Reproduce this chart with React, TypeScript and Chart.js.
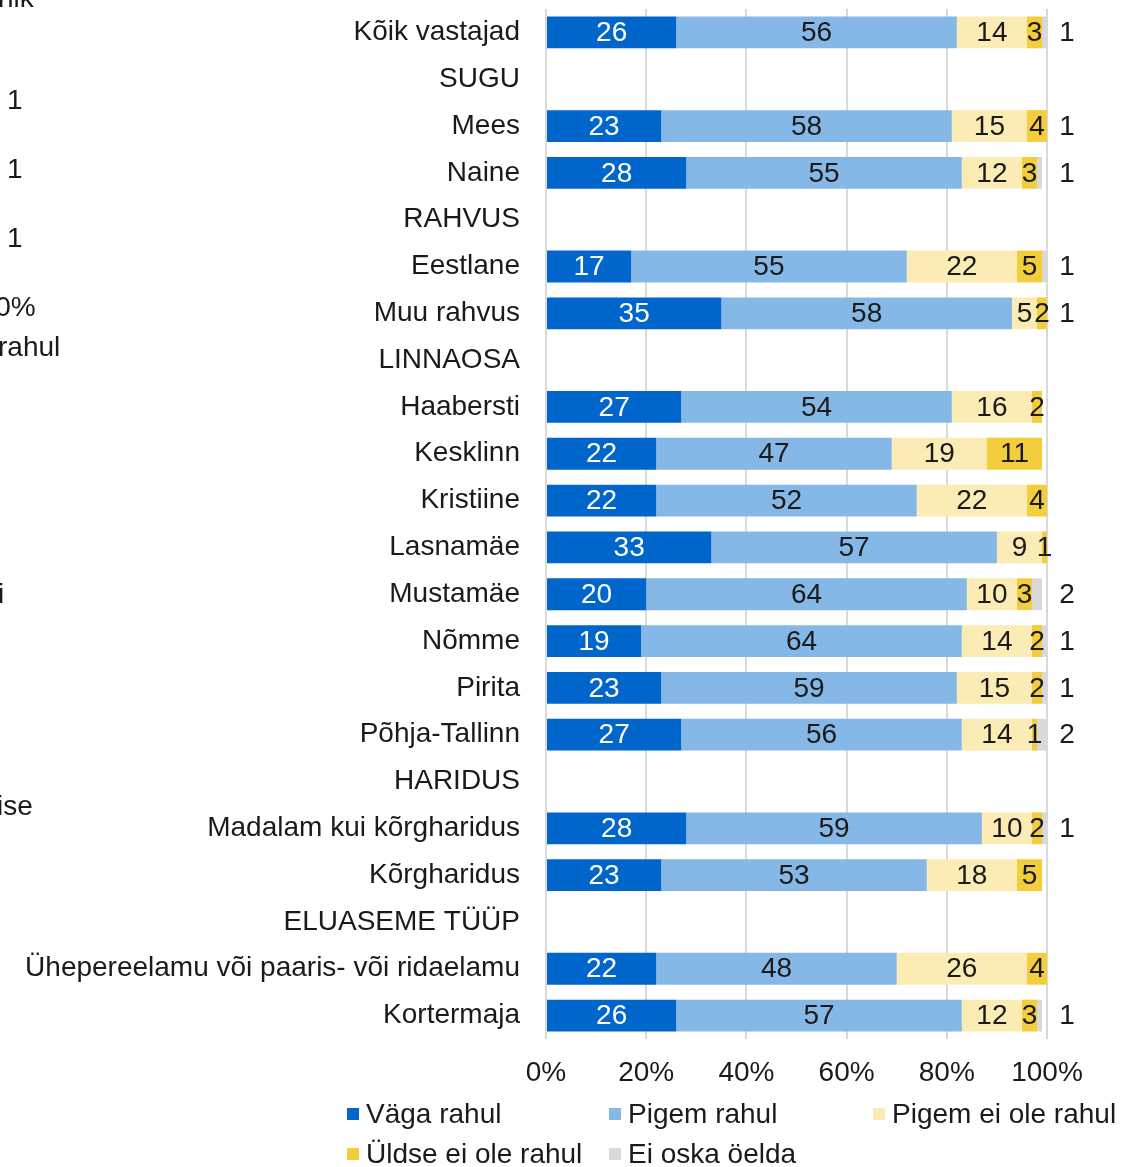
import React, { useEffect, useRef } from "react";
import { Chart, registerables } from "chart.js";

Chart.register(...registerables);

const categories = [
  "Kõik vastajad",
  "SUGU",
  "Mees",
  "Naine",
  "RAHVUS",
  "Eestlane",
  "Muu rahvus",
  "LINNAOSA",
  "Haabersti",
  "Kesklinn",
  "Kristiine",
  "Lasnamäe",
  "Mustamäe",
  "Nõmme",
  "Pirita",
  "Põhja-Tallinn",
  "HARIDUS",
  "Madalam kui kõrgharidus",
  "Kõrgharidus",
  "ELUASEME TÜÜP",
  "Ühepereelamu või paaris- või ridaelamu",
  "Kortermaja",
];

const seriesNames = [
  "Väga rahul",
  "Pigem rahul",
  "Pigem ei ole rahul",
  "Üldse ei ole rahul",
  "Ei oska öelda",
];

const vagaRahul = [26, null, 23, 28, null, 17, 35, null, 27, 22, 22, 33, 20, 19, 23, 27, null, 28, 23, null, 22, 26];
const pigemRahul = [56, null, 58, 55, null, 55, 58, null, 54, 47, 52, 57, 64, 64, 59, 56, null, 59, 53, null, 48, 57];
const pigemEiOleRahul = [14, null, 15, 12, null, 22, 5, null, 16, 19, 22, 9, 10, 14, 15, 14, null, 10, 18, null, 26, 12];
const uldseEiOleRahul = [3, null, 4, 3, null, 5, 2, null, 2, 11, 4, 1, 3, 2, 2, 1, null, 2, 5, null, 4, 3];
const eiOskaOelda = [1, null, 1, 1, null, 1, 1, null, null, null, null, null, 2, 1, 1, 2, null, 1, null, null, null, 1];

const xTicks = [0, 20, 40, 60, 80, 100];

const colors = ["#0066CC", "#85B8E6", "#FBEBB5", "#F4CD3D", "#D9D9D9"];

const FONT = "'Liberation Sans', Arial, sans-serif";
const FS = 28;

const labelPlugin = {
  id: "segLabels",
  afterDatasetsDraw(chart: any) {
    const ctx = chart.ctx;
    const area = chart.chartArea;
    ctx.save();
    ctx.font = `${FS}px ${FONT}`;
    ctx.textAlign = "center";
    ctx.textBaseline = "middle";
    chart.data.datasets.forEach((ds: any, di: number) => {
      const meta = chart.getDatasetMeta(di);
      meta.data.forEach((el: any, i: number) => {
        const v = ds.data[i];
        if (v === null || v === undefined || v === 0) return;
        let x: number;
        if (di === 4) {
          x = area.right + 20;
        } else {
          const end = Math.min(el.x, area.right);
          const start = Math.min(el.base, area.right);
          x = (start + end) / 2;
        }
        ctx.fillStyle = di === 0 ? "#ffffff" : "#1a1a1a";
        ctx.fillText(String(v), x, el.y + 1);
      });
    });
    ctx.restore();
  },
};

const legendPlugin = {
  id: "gridLegend",
  afterDraw(chart: any) {
    const ctx = chart.ctx;
    const area = chart.chartArea;
    ctx.save();
    ctx.font = `${FS}px ${FONT}`;
    ctx.textBaseline = "middle";
    ctx.textAlign = "left";
    const colW = 262;
    const x0 = 347;
    const row0 = area.bottom + 75;
    const rowH = 40;
    chart.data.datasets.forEach((ds: any, di: number) => {
      const col = di % 3;
      const row = Math.floor(di / 3);
      const x = x0 + col * colW + (col === 2 ? 2 : 0);
      const y = row0 + row * rowH;
      ctx.fillStyle = ds.backgroundColor;
      ctx.fillRect(x, y - 6, 12, 12);
      ctx.fillStyle = "#1a1a1a";
      ctx.fillText(ds.label, x + 19, y + 1);
    });
    ctx.restore();
  },
};

const fragments = [
  { text: "nik", left: -2, top: -19 },
  { text: "1", left: 7, top: 83 },
  { text: "1", left: 7, top: 152 },
  { text: "1", left: 7, top: 221 },
  { text: "100%", left: -36, top: 290 },
  { text: "rahul", left: -2, top: 330 },
  { text: "i", left: -2, top: 577 },
  { text: "ise", left: -3, top: 789 },
];

export default function App() {
  const ref = useRef<HTMLCanvasElement | null>(null);

  useEffect(() => {
    if (!ref.current) return;
    const series = [vagaRahul, pigemRahul, pigemEiOleRahul, uldseEiOleRahul, eiOskaOelda];
    const chart = new Chart(ref.current, {
      type: "bar",
      data: {
        labels: categories,
        datasets: series.map((d, i) => ({
          label: seriesNames[i],
          data: d,
          backgroundColor: colors[i],
          borderWidth: 0,
          barPercentage: 0.68,
          categoryPercentage: 1,
          stack: "s",
        })),
      },
      options: {
        indexAxis: "y",
        responsive: false,
        animation: false,
        layout: { padding: { top: 9, right: 74, bottom: 68, left: 0 } },
        plugins: {
          legend: { display: false },
          tooltip: { enabled: false },
        },
        scales: {
          x: {
            stacked: true,
            min: 0,
            max: 100,
            afterBuildTicks: (scale: any) => {
              scale.ticks = xTicks.map((v) => ({ value: v }));
            },
            ticks: {
              callback: (v: any) => `${v}%`,
              font: { family: FONT, size: FS },
              color: "#1a1a1a",
              padding: 17,
              maxRotation: 0,
            },
            grid: { color: "#D9D9D9", lineWidth: 2, drawTicks: false },
            border: { display: false },
            afterFit: (scale: any) => {
              scale.height = 60;
              scale.paddingLeft = 0;
              scale.paddingRight = 0;
            },
          },
          y: {
            stacked: true,
            ticks: {
              font: { family: FONT, size: FS },
              color: "#1a1a1a",
              padding: 26,
              autoSkip: false,
            },
            grid: { display: false, drawTicks: false },
            border: { display: false },
            afterFit: (scale: any) => {
              scale.width = 546;
              scale.paddingTop = 0;
              scale.paddingBottom = 0;
            },
          },
        },
      },
      plugins: [labelPlugin, legendPlugin],
    });
    return () => chart.destroy();
  }, []);

  return (
    <div
      style={{
        position: "fixed",
        left: 0,
        top: 0,
        width: 1121,
        height: 1167,
        overflow: "hidden",
        background: "#ffffff",
      }}
    >
      <canvas ref={ref} width={1121} height={1167} style={{ display: "block" }} />
      {fragments.map((f, i) => (
        <span
          key={i}
          style={{
            position: "absolute",
            left: f.left,
            top: f.top,
            fontFamily: FONT,
            fontSize: FS,
            lineHeight: "34px",
            color: "#1a1a1a",
            whiteSpace: "nowrap",
          }}
        >
          {f.text}
        </span>
      ))}
    </div>
  );
}
